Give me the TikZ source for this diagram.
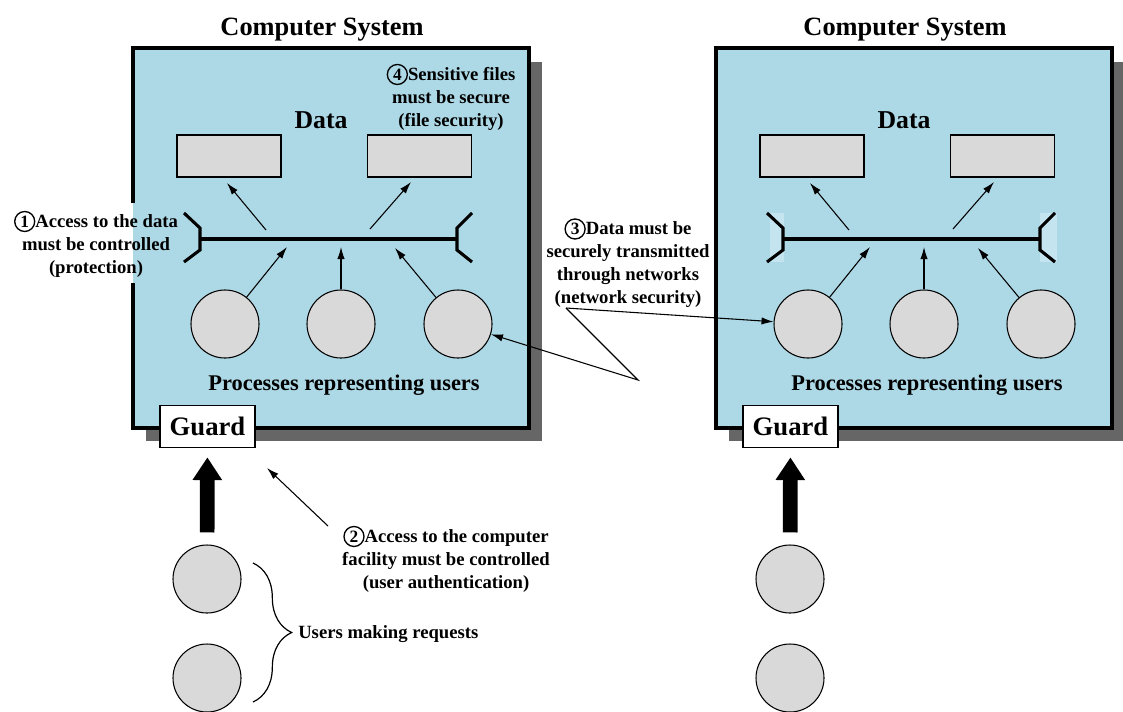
\documentclass[tikz,border=0pt]{standalone}
\usepackage{fontspec}
\setmainfont{Liberation Serif}
\usetikzlibrary{arrows.meta,decorations.pathreplacing}

\definecolor{sysblue}{RGB}{173,216,230}
\definecolor{sysshadow}{RGB}{102,102,102}
\definecolor{procgray}{RGB}{217,217,217}
\definecolor{bracketglow}{RGB}{196,228,239}

% circled step number placed in front of a note
\newcommand\circnum[1]{\tikz[baseline=(cn.base)]\node[draw,circle,fill=none,line width=1pt,inner sep=0.3pt,minimum size=15pt,anchor=base,font=\fontsize{13}{13}\selectfont\bfseries](cn){#1};}

\begin{document}
\begin{tikzpicture}[x=0.75pt,y=-0.75pt,font=\bfseries,
  heading/.style={font=\fontsize{19.8}{22}\selectfont\bfseries,inner sep=0pt},
  datahead/.style={font=\fontsize{19.3}{22}\selectfont\bfseries,inner sep=0pt},
  caption/.style={font=\fontsize{16.8}{20}\selectfont\bfseries,inner sep=0pt},
  note/.style={align=center,font=\fontsize{14}{17.25}\selectfont\bfseries,inner sep=0pt},
  sysframe/.style={line width=2.3pt,line join=miter},
  datafile/.style={draw,line width=0.8pt,fill=procgray,minimum width=78pt,minimum height=31.5pt,inner sep=0pt},
  proc/.style={draw,circle,line width=0.8pt,fill=procgray,minimum size=51pt,inner sep=0pt},
  guardbox/.style={draw,line width=0.8pt,fill=white,minimum width=71.25pt,minimum height=32pt,inner sep=0pt,font=\fontsize{20}{22}\selectfont\bfseries},
  thinarrow/.style={line width=0.8pt,line join=miter,-{Latex[length=9pt,width=5.5pt]}},
  busline/.style={line width=2.3pt,line join=miter},
  bigarrow/.style={line width=11pt,-{Triangle[length=17pt,width=21pt]}}]

\useasboundingbox (0,0) rectangle (1123,711);

% drop shadows and blue bodies of both computer systems
\fill[sysshadow] (146,62) rectangle (542,441);
\fill[sysblue] (133,48) rectangle (529,428);
\fill[sysshadow] (729,62) rectangle (1125,441);
\fill[sysblue] (716,48) rectangle (1112,428);

% frames; the left one is open where note 1 crosses it
\draw[sysframe] (133,203) -- (133,48) -- (529,48) -- (529,428) -- (133,428) -- (133,283);
\draw[sysframe] (716,48) rectangle (1112,428);

% light patches behind the brackets of the right system
\fill[bracketglow] (770,213) rectangle (784,262);
\fill[bracketglow] (1040,213) rectangle (1057,262);

\foreach \s/\dx in {L/0,R/583}{
  \begin{scope}[shift={(\dx,0)}]
    \node[heading] (\s-title) at (322,30) {Computer System};
    \node[datahead] (\s-data) at (321,120) {Data};
    \node[datafile] (\s-d1) at (229,156) {};
    \node[datafile] (\s-d2) at (419.5,156) {};

    % access-control bus with its end brackets
    \draw[busline] (200,239) -- (457,239);
    \draw[busline] (184,213) -- (200,228) -- (200,250) -- (184,262);
    \draw[busline] (472,213) -- (457,228) -- (457,250) -- (472,262);

    % processes acting for users
    \node[proc] (\s-c1) at (225,324) {};
    \node[proc] (\s-c2) at (341,324) {};
    \node[proc] (\s-c3) at (458,324) {};
    \node[caption] (\s-proc) at (344,385) {Processes representing users};

    \coordinate (\s-b1) at (287,247);
    \coordinate (\s-b2) at (341,247);
    \coordinate (\s-b3) at (395,248);
    \draw[thinarrow] (\s-c1) -- (\s-b1);
    \draw[thinarrow] (\s-c2) -- (\s-b2);
    \draw[thinarrow] (\s-c3) -- (\s-b3);

    \coordinate (\s-t1) at (266,230);
    \coordinate (\s-h1) at (227,183);
    \coordinate (\s-t2) at (370,229);
    \coordinate (\s-h2) at (411,182);
    \draw[thinarrow] (\s-t1) -- (\s-h1);
    \draw[thinarrow] (\s-t2) -- (\s-h2);

    % entry point and users waiting outside
    \node[guardbox] (\s-guard) at (207.5,426.5) {Guard};
    \node[proc] (\s-u1) at (207,579) {};
    \node[proc] (\s-u2) at (207,678) {};
    \draw[bigarrow,shorten <=9pt,shorten >=6.75pt] (\s-u1) -- (\s-guard);
  \end{scope}
}

% security notes
\node[note] (n1) at (96,244) {\circnum{1}Access to the data\\must be controlled\\(protection)};
\node[note] (n4) at (451,97) {\circnum{4}Sensitive files\\must be secure\\(file security)};
\node[note] (n3) at (628,263) {\circnum{3}Data must be\\securely transmitted\\through networks\\(network security)};
\node[note] (n2) at (446,559) {\circnum{2}Access to the computer\\facility must be controlled\\(user authentication)};

% note 2 points at the guard
\coordinate (a2s) at (328,526);
\coordinate (a2e) at (267,468);
\draw[thinarrow] (a2s) -- (a2e);

% note 3 points at both systems
\coordinate (p3) at (566,308);
\coordinate (q3) at (638,380);
\draw[thinarrow] (p3) -- (R-c1);
\draw[thinarrow] (p3) -- (q3) -- (L-c3);

% waiting users
\draw[line width=0.9pt,decorate,decoration={brace,amplitude=29pt}] (253,563) -- (253,702);
\node[note,anchor=west] (users) at (298,634) {Users making requests};

\end{tikzpicture}
\end{document}
